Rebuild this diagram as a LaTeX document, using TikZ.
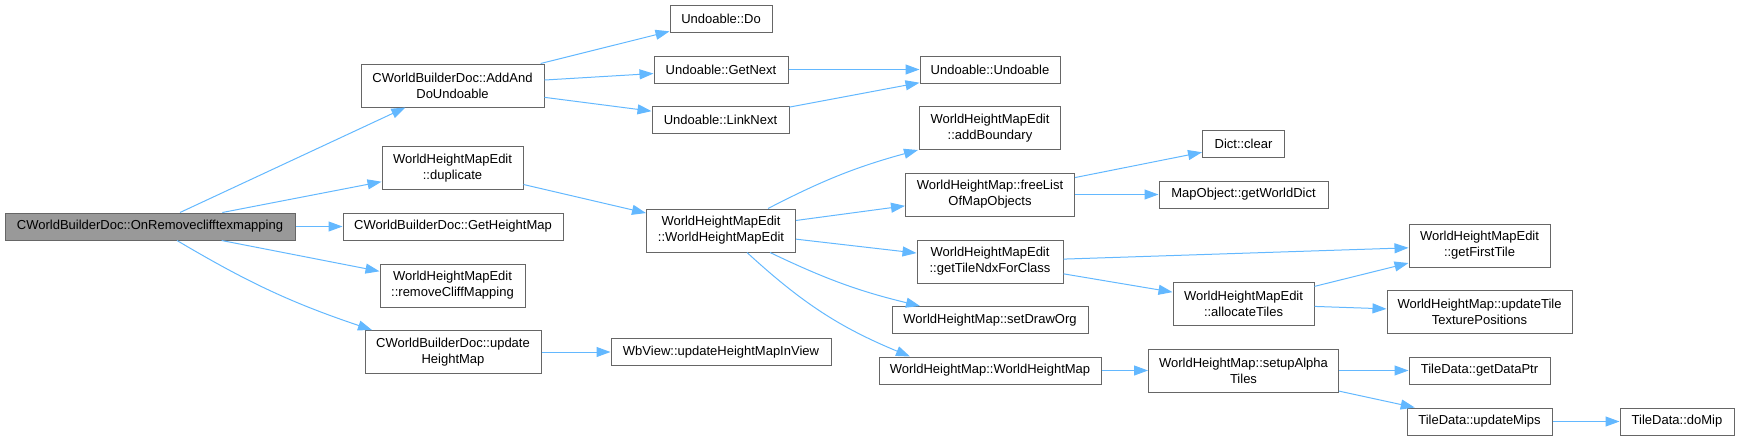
\documentclass[tikz,border=0pt]{standalone}
\usepackage{fontspec}
\setmainfont{Liberation Sans}
\usetikzlibrary{arrows.meta, positioning}

\definecolor{edgeblue}{HTML}{63B8FF}
\definecolor{boxline}{HTML}{666666}
\definecolor{rootfill}{HTML}{999999}

\tikzset{
  fn/.style={draw=boxline, line width=1pt, fill=white, align=center, inner sep=2pt,
    font=\fontsize{13}{16}\selectfont, minimum height=27pt},
  fn2/.style={fn, minimum height=43pt},
  edge/.style={draw=edgeblue, line width=1pt, -{Triangle[length=14pt,width=10pt]}}
}

\begin{document}
\begin{tikzpicture}[x=1pt, y=1pt]
  \useasboundingbox (0,0) rectangle (1739,-440);
  % caller
  \node[fn, fill=rootfill, minimum width=290pt] (root) at (150,-226.5) {CWorldBuilderDoc::OnRemoveclifftexmapping};
  % first level
  \node[fn2, minimum width=183pt] (addundo) at (452.5,-85.5) {CWorldBuilderDoc::AddAnd\\DoUndoable};
  \node[fn2, minimum width=141pt] (dup)     at (452.5,-168)  {WorldHeightMapEdit\\::duplicate};
  \node[fn,  minimum width=220pt] (getmap)  at (453,-226.5)  {CWorldBuilderDoc::GetHeightMap};
  \node[fn2, minimum width=145pt] (rmcliff) at (452.5,-285.5) {WorldHeightMapEdit\\::removeCliffMapping};
  \node[fn2, minimum width=176pt] (updmap)  at (453,-352)    {CWorldBuilderDoc::update\\HeightMap};
  % second level
  \node[fn,  minimum width=102pt] (undodo)   at (721,-18.5)  {Undoable::Do};
  \node[fn,  minimum width=134pt] (getnext)  at (721,-69.5)  {Undoable::GetNext};
  \node[fn,  minimum width=137pt] (linknext) at (720.5,-120) {Undoable::LinkNext};
  \node[fn2, minimum width=149pt] (whmedit)  at (721,-230.5) {WorldHeightMapEdit\\::WorldHeightMapEdit};
  \node[fn,  minimum width=220pt] (wbview)   at (721,-352)   {WbView::updateHeightMapInView};
  % third level
  \node[fn,  minimum width=140pt] (undoable) at (990,-69.5)  {Undoable::Undoable};
  \node[fn2, minimum width=141pt] (addbnd)   at (990,-128)   {WorldHeightMapEdit\\::addBoundary};
  \node[fn2, minimum width=169pt] (freelist) at (990,-194.5) {WorldHeightMap::freeList\\OfMapObjects};
  \node[fn2, minimum width=146pt] (tilendx)  at (990,-261.5) {WorldHeightMapEdit\\::getTileNdxForClass};
  \node[fn,  minimum width=196pt] (draworg)  at (990,-320)   {WorldHeightMap::setDrawOrg};
  \node[fn,  minimum width=222pt] (whm)      at (990,-370.5) {WorldHeightMap::WorldHeightMap};
  % fourth level
  \node[fn,  minimum width=82pt]  (dictclr)    at (1243.5,-144)   {Dict::clear};
  \node[fn,  minimum width=169pt] (worlddict)  at (1243.5,-194.5) {MapObject::getWorldDict};
  \node[fn2, minimum width=141pt] (alloctiles) at (1243.5,-304)   {WorldHeightMapEdit\\::allocateTiles};
  \node[fn2, minimum width=190pt] (alpha)      at (1243.5,-370.5) {WorldHeightMap::setupAlpha\\Tiles};
  % fifth level
  \node[fn2, minimum width=141pt] (firsttile) at (1479.5,-245.5) {WorldHeightMapEdit\\::getFirstTile};
  \node[fn2, minimum width=185pt] (tiletex)   at (1479.5,-312)   {WorldHeightMap::updateTile\\TexturePositions};
  \node[fn,  minimum width=141pt] (dataptr)   at (1479.5,-370.5) {TileData::getDataPtr};
  \node[fn,  minimum width=145pt] (updmips)   at (1479.5,-421.5) {TileData::updateMips};
  \node[fn,  minimum width=114pt] (domip)     at (1677,-421.5)   {TileData::doMip};

  % calls
  \draw[edge] (root) -- (addundo);
  \draw[edge] (root) -- (dup);
  \draw[edge] (root) -- (getmap);
  \draw[edge] (root) -- (rmcliff);
  \draw[edge] ([xshift=27pt]root.south) to[bend right=6] ([xshift=-81pt]updmap.north);
  \draw[edge] (addundo) -- (undodo);
  \draw[edge] (addundo) -- (getnext);
  \draw[edge] (addundo) -- (linknext);
  \draw[edge] (getnext) -- (undoable);
  \draw[edge] (linknext) -- (undoable);
  \draw[edge] (dup) -- (whmedit);
  \draw[edge] (updmap) -- (wbview);
  \draw[edge] ([xshift=47pt]whmedit.north) to[bend left=6] ([xshift=-1pt]addbnd.south west);
  \draw[edge] (whmedit) -- (freelist);
  \draw[edge] (whmedit) -- (tilendx);
  \draw[edge] ([xshift=49pt]whmedit.south) to[bend right=6] ([xshift=-70pt]draworg.north);
  \draw[edge] ([xshift=26pt]whmedit.south) to[bend right=10] ([xshift=-80pt]whm.north);
  \draw[edge] (freelist) -- (dictclr);
  \draw[edge] (freelist) -- (worlddict);
  \draw[edge] (tilendx) -- (firsttile);
  \draw[edge] (tilendx) -- (alloctiles);
  \draw[edge] (alloctiles) -- (firsttile);
  \draw[edge] (alloctiles) -- (tiletex);
  \draw[edge] (whm) -- (alpha);
  \draw[edge] (alpha) -- (dataptr);
  \draw[edge] (alpha) -- (updmips);
  \draw[edge] (updmips) -- (domip);
\end{tikzpicture}
\end{document}
